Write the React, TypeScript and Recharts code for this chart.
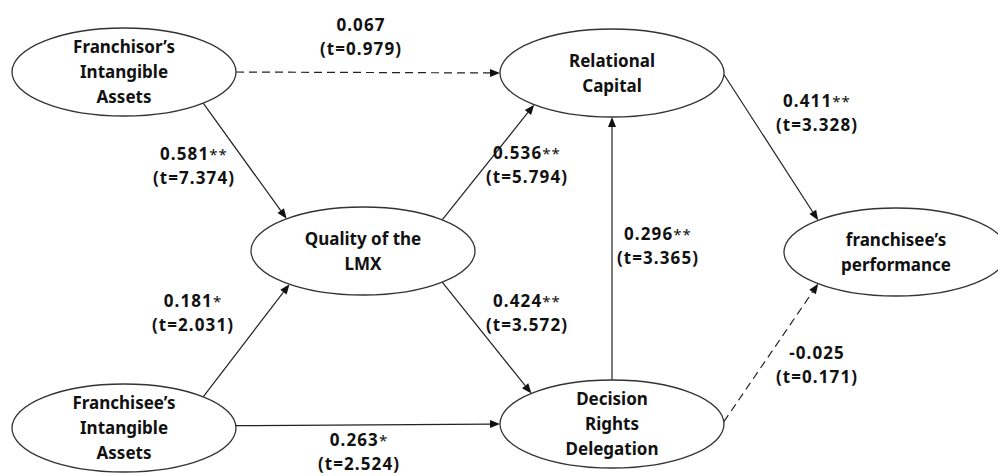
import { ScatterChart, Scatter, XAxis, YAxis, ReferenceLine } from "recharts";

// layout units = pixels of the 998x476 canvas
const W = 998;
const H = 476;

// constructs (ellipses)
const NODE_LINES = [
  ["Franchisor’s", "Intangible", "Assets"],
  ["Relational", "Capital"],
  ["Quality of the", "LMX"],
  ["franchisee’s", "performance"],
  ["Franchisee’s", "Intangible", "Assets"],
  ["Decision", "Rights", "Delegation"],
];
const NODE_X = [124, 612, 363, 896, 124, 612];
const NODE_Y = [72, 73, 251, 252, 428, 424];

// structural paths
const PATH_FROM = [0, 0, 2, 1, 5, 4, 4, 2, 5];
const PATH_TO = [1, 2, 1, 3, 1, 2, 5, 5, 3];
const FROM_ANGLE = [0, 45, -45, 2, 270, -45, -3, 45, -3];
const TO_ANGLE = [180, 227, 134, 226, 90, 131, 180, 224, 134];
const PATH_COEF = ["0.067", "0.581", "0.536", "0.411", "0.296", "0.181", "0.263", "0.424", "-0.025"];
const PATH_SIG = ["", "**", "**", "**", "**", "*", "*", "**", ""];
const PATH_T = ["0.979", "7.374", "5.794", "3.328", "3.365", "2.031", "2.524", "3.572", "0.171"];
const LABEL_X = [361, 194, 527, 817, 658, 193, 359, 527, 817];
const LABEL_Y = [37, 166, 165, 113, 246, 313, 452, 313, 365];

const RX = 112;
const RY = 44;
const FONT = "'Noto Sans', sans-serif";
const INK = "#111";

const nodes = NODE_LINES.map((lines, i) => ({ x: NODE_X[i], y: NODE_Y[i], lines }));
const labels = PATH_COEF.map((c, i) => ({ x: LABEL_X[i], y: LABEL_Y[i], coef: c, sig: PATH_SIG[i], t: PATH_T[i] }));

const anchor = (n: number, deg: number) => ({
  x: NODE_X[n] + RX * Math.cos((deg * Math.PI) / 180),
  y: NODE_Y[n] + RY * Math.sin((deg * Math.PI) / 180),
});

const paths = PATH_FROM.map((f, i) => ({
  from: anchor(f, FROM_ANGLE[i]),
  to: anchor(PATH_TO[i], TO_ANGLE[i]),
  dashed: PATH_SIG[i] === "",
}));

const arrowShape = (dashed: boolean) => (props: any) => {
  const { x1, y1, x2, y2 } = props;
  const dx = x2 - x1;
  const dy = y2 - y1;
  const len = Math.sqrt(dx * dx + dy * dy) || 1;
  const ux = dx / len;
  const uy = dy / len;
  const bx = x2 - ux * 10;
  const by = y2 - uy * 10;
  const pts = `${x2},${y2} ${bx - uy * 4},${by + ux * 4} ${bx + uy * 4},${by - ux * 4}`;
  return (
    <g>
      <line x1={x1} y1={y1} x2={bx} y2={by} stroke="#222" strokeWidth={1.2} strokeDasharray={dashed ? "8 5" : undefined} />
      <polygon points={pts} fill="#111" />
    </g>
  );
};

const NodeShape = (props: any) => {
  const { cx, cy, payload } = props;
  const n = payload.lines.length;
  return (
    <g>
      <ellipse cx={cx} cy={cy} rx={RX} ry={RY} fill="none" stroke="#333" strokeWidth={1.3} />
      {payload.lines.map((l: string, i: number) => (
        <text key={i} x={cx} y={cy + (i - (n - 1) / 2) * 25 + 6} textAnchor="middle"
          fontFamily={FONT} fontWeight={700} fontSize={17} fill={INK}>
          {l}
        </text>
      ))}
    </g>
  );
};

const LabelShape = (props: any) => {
  const { cx, cy, payload } = props;
  return (
    <g fontFamily={FONT} fontWeight={700} fontSize={17} fill={INK} letterSpacing={1.1}>
      <text x={cx} y={cy - 6} textAnchor="middle">
        {payload.coef}
        {payload.sig && <tspan fontWeight={400} fontSize={15}>{payload.sig}</tspan>}
      </text>
      <text x={cx} y={cy + 18} textAnchor="middle">(t={payload.t})</text>
    </g>
  );
};

export default function App() {
  return (
    <div style={{ position: "absolute", left: 0, top: 0, width: W, height: H, background: "#fff" }}>
      <ScatterChart width={W} height={H} margin={{ top: 0, right: 0, bottom: 0, left: 0 }}>
        <XAxis type="number" dataKey="x" domain={[0, W]} allowDataOverflow hide />
        <YAxis type="number" dataKey="y" domain={[0, H]} allowDataOverflow reversed hide />
        {paths.map((p, i) => (
          <ReferenceLine key={i} segment={[p.from, p.to]} ifOverflow="visible" shape={arrowShape(p.dashed)} />
        ))}
        <Scatter data={nodes} shape={NodeShape} isAnimationActive={false} />
        <Scatter data={labels} shape={LabelShape} isAnimationActive={false} />
      </ScatterChart>
    </div>
  );
}
